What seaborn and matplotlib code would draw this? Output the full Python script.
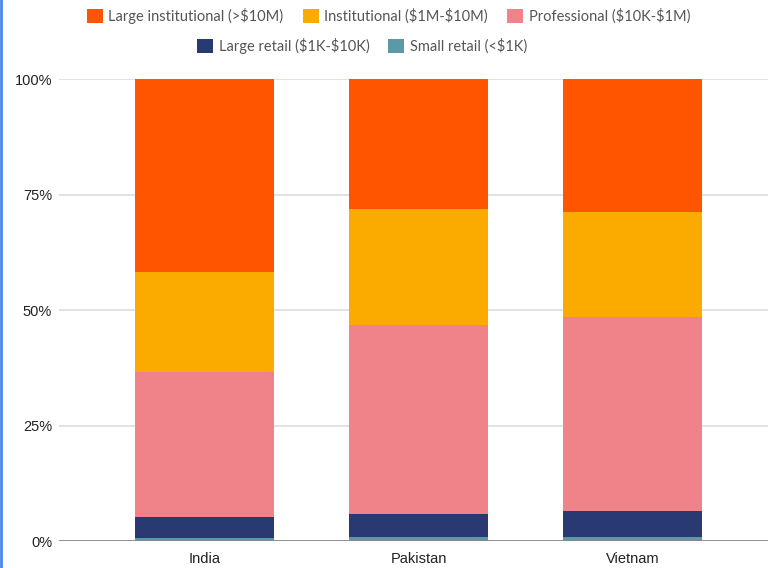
import numpy as np
import pandas as pd
import seaborn as sns
import matplotlib.pyplot as plt
from matplotlib.patches import Patch
from matplotlib.lines import Line2D

countries = ["India", "Pakistan", "Vietnam"]
segments = ["Small retail (<\\$1K)", "Large retail (\\$1K-\\$10K)", "Professional (\\$10K-\\$1M)",
            "Institutional (\\$1M-\\$10M)", "Large institutional (>\\$10M)"]
small_retail = [0.7, 0.9, 0.9]
large_retail = [4.4, 5.0, 5.7]
professional = [31.5, 40.9, 41.9]
institutional = [21.6, 25.1, 22.7]
large_inst = [41.8, 28.1, 28.8]
colors = ["#5B99A6", "#293A73", "#F0838A", "#FBAA00", "#FF5400"]

sns.set_theme(style="white")
plt.rcParams["font.family"] = ["Liberation Sans", "DejaVu Sans"]

vals = np.array([small_retail, large_retail, professional, institutional, large_inst])
cum = vals.cumsum(axis=0)
cum = cum / cum[-1] * 100

fig = plt.figure(figsize=(7.68, 5.68), dpi=100)
ax = fig.add_axes([0.0768, 0.0475, 0.9232, 0.8134])

# stacked bars drawn top-down as cumulative heights
for i in range(len(segments) - 1, -1, -1):
    df = pd.DataFrame({"country": countries, "value": cum[i]})
    sns.barplot(data=df, x="country", y="value", color=colors[i], width=0.65,
                saturation=1, linewidth=0, ax=ax)

ax.set_ylim(0, 100)
ax.set_xlim(-0.68, 2.633)
ax.set_yticks([0, 25, 50, 75, 100])
ax.set_yticklabels(["0%", "25%", "50%", "75%", "100%"])
ax.yaxis.grid(True, color="#dddddd", linewidth=1.2)
ax.set_axisbelow(True)
ax.axhline(0, color="#888888", linewidth=2, zorder=5)
for s in ax.spines.values():
    s.set_visible(False)
ax.set_xlabel("")
ax.set_ylabel("")
ax.tick_params(axis="both", length=0, labelsize=10.5, colors="#222222")
ax.tick_params(axis="y", pad=5)
ax.tick_params(axis="x", pad=8)

# legend: two rows, each centred on its own
def handles(idx):
    return [Patch(facecolor=colors[i], edgecolor="none", label=segments[i]) for i in idx]

leg_kw = dict(frameon=False, handlelength=1.1, handleheight=1.0,
              handletextpad=0.4, columnspacing=1.3, labelcolor="#555555",
              prop={"family": ["Lato", "DejaVu Sans"], "size": 10.5})
fig.legend(handles=handles([4, 3, 2]), ncol=3, loc="center",
           bbox_to_anchor=(388.5 / 768, 1 - 16 / 568), **leg_kw)
fig.legend(handles=handles([1, 0]), ncol=2, loc="center",
           bbox_to_anchor=(362 / 768, 1 - 46 / 568), **leg_kw)

# blue strip on the left edge
fig.add_artist(Line2D([0.0015, 0.0015], [0, 1], color="#4A86E8", linewidth=2,
                      transform=fig.transFigure))

fig.savefig("out.png", dpi=100)
